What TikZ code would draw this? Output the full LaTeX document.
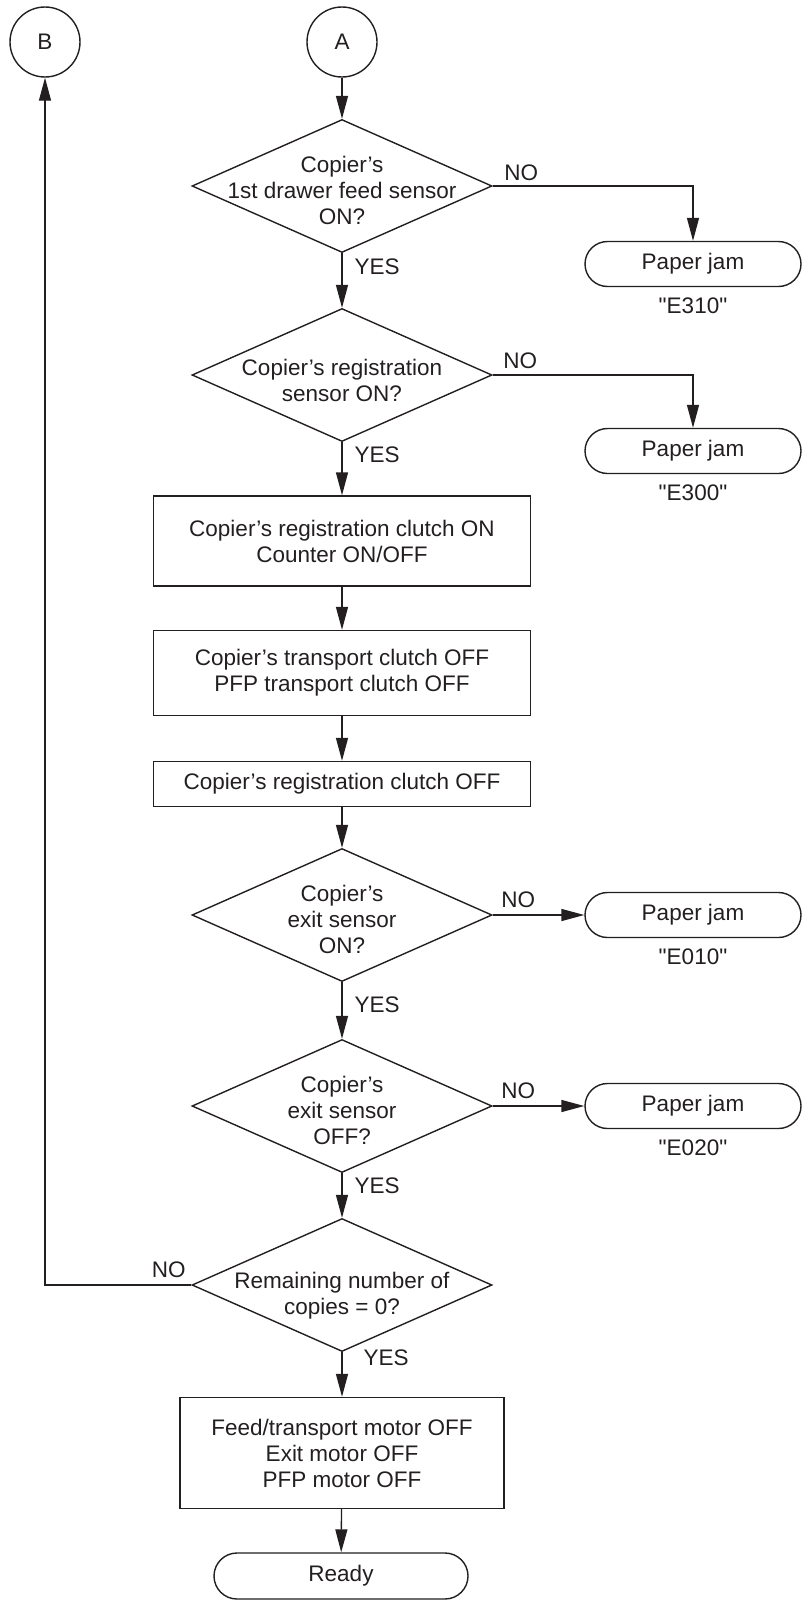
\documentclass[tikz,border=0pt]{standalone}
\usepackage{fontspec}
\setmainfont{Liberation Sans}
\usetikzlibrary{shapes.geometric,shapes.misc,arrows.meta,positioning}
\definecolor{ink}{RGB}{35,31,32}
\newcommand{\jamcode}[1]{\textquotedbl#1\textquotedbl}
\begin{document}
\begin{tikzpicture}[x=1pt,y=-1pt,line width=1.4pt,color=ink,font=\fontsize{22.5}{26}\selectfont,
  >={Triangle[length=23pt,width=12pt]},
  conn/.style={->},
  decision/.style={draw,diamond,minimum width=300pt,minimum height=133pt,inner sep=0pt},
  proc/.style={draw,rectangle,align=center,minimum width=377pt,inner sep=0pt},
  term/.style={draw,rounded rectangle,minimum width=216pt,minimum height=45pt,inner sep=0pt},
  joint/.style={draw,circle,minimum size=70pt,inner sep=0pt},
  lbl/.style={inner sep=0pt,align=center}]
\useasboundingbox (0,0) rectangle (802,1606);
\node[joint] (A) at (342,42) {A};
\node[joint] (B) at (45,42) {B};
\node[decision] (d1) at (342,186) {};
\node[lbl] (t1) at (342,190) {Copier’s\\1st drawer feed sensor\\ON?};
\node[term] (pj1) at (693,264) {Paper jam};
\node[lbl,below=10pt of pj1] (e1) {\jamcode{E310}};
\node[decision] (d2) at (342,375) {};
\node[lbl] (t2) at (342,380) {Copier’s registration\\sensor ON?};
\node[term] (pj2) at (693,451) {Paper jam};
\node[lbl,below=10pt of pj2] (e2) {\jamcode{E300}};
\node[proc,minimum height=90pt] (p1) at (342,541) {Copier’s registration clutch ON\\Counter ON/OFF};
\node[proc,minimum height=85pt] (p2) at (342,673) {Copier’s transport clutch OFF\\PFP transport clutch OFF};
\node[proc,minimum height=45pt] (p3) at (342,784) {Copier’s registration clutch OFF};
\node[decision] (d3) at (342,915) {};
\node[lbl] (t3) at (342,919) {Copier’s\\exit sensor\\ON?};
\node[term] (pj3) at (693,915) {Paper jam};
\node[lbl,below=10pt of pj3] (e3) {\jamcode{E010}};
\node[decision] (d4) at (342,1106) {};
\node[lbl] (t4) at (342,1110) {Copier’s\\exit sensor\\OFF?};
\node[term] (pj4) at (693,1106) {Paper jam};
\node[lbl,below=10pt of pj4] (e4) {\jamcode{E020}};
\node[decision] (d5) at (342,1285) {};
\node[lbl] (t5) at (342,1296) {Remaining number of\\copies = 0?};
\node[proc,minimum width=324pt,minimum height=111pt] (p4) at (342,1453) {Feed/transport motor OFF\\Exit motor OFF\\PFP motor OFF};
\node[term,minimum width=254pt,minimum height=46pt] (rd) at (341,1576) {Ready};
\node[lbl,above right=5pt and 11pt of d1.east] (n1) {NO};
\node[lbl,above right=6pt and 10pt of d2.east] (n2) {NO};
\node[lbl,above right=7pt and 8pt of d3.east] (n3) {NO};
\node[lbl,above right=7pt and 8pt of d4.east] (n4) {NO};
\node[lbl,above left=7pt and 5pt of d5.west] (n5) {NO};
\node[lbl,below right=5pt and 12pt of d1.south] (y1) {YES};
\node[lbl,below right=4pt and 12pt of d2.south] (y2) {YES};
\node[lbl,below right=14pt and 12pt of d3.south] (y3) {YES};
\node[lbl,below right=4pt and 12pt of d4.south] (y4) {YES};
\node[lbl,below right=-3pt and 21pt of d5.south] (y5) {YES};
\draw[conn] (A) -- (d1);
\draw[conn] (d1.east) -| (pj1.north);
\draw[conn] (d1.south) -- (d2.north);
\draw[conn] (d2.east) -| (pj2.north);
\draw[conn] (d2.south) -- (p1);
\draw[conn] (p1) -- (p2);
\draw[conn] (p2) -- (p3);
\draw[conn] (p3) -- (d3);
\draw[conn] (d3) -- (pj3);
\draw[conn] (d3) -- (d4);
\draw[conn] (d4) -- (pj4);
\draw[conn] (d4) -- (d5);
\draw[conn] (d5.west) -| (B.south);
\draw[conn] (d5) -- (p4);
\draw[conn] (p4) -- (rd);
\end{tikzpicture}
\end{document}
